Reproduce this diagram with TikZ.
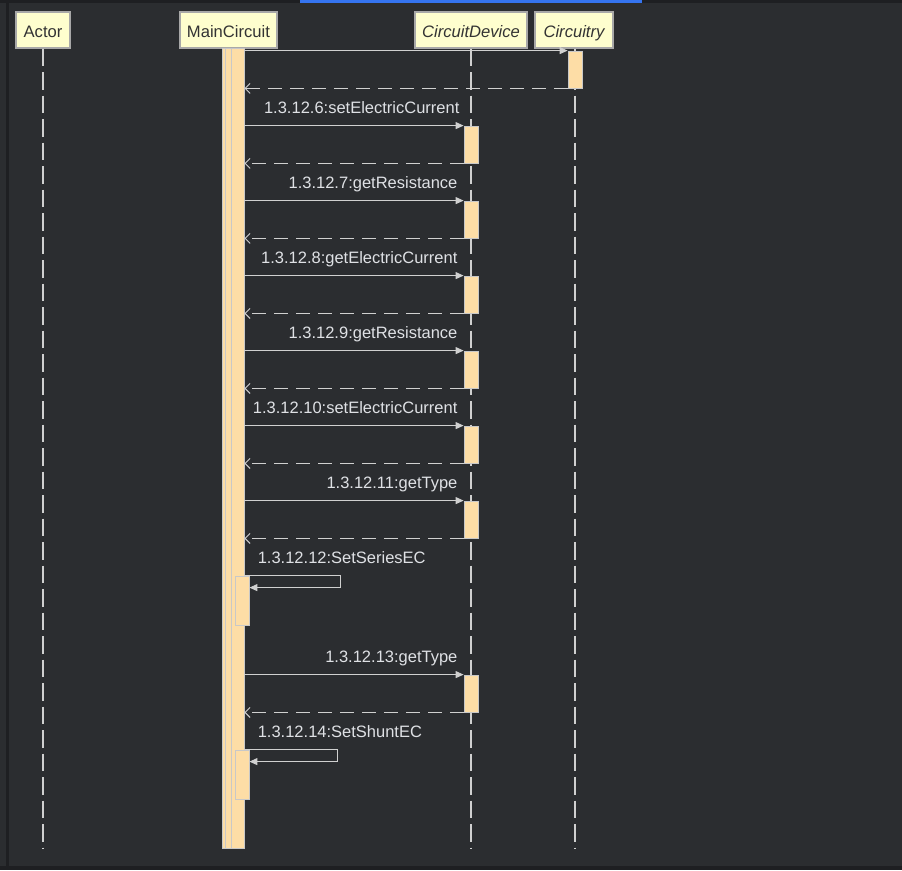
\documentclass[tikz,border=0pt]{standalone}
\usepackage{fontspec}
\setmainfont{Liberation Sans}
\usepackage{tikz}
\usetikzlibrary{arrows.meta,positioning,calc}
\usepackage{xcolor}
\definecolor{bgdark}{HTML}{2B2D30}
\definecolor{edgedark}{HTML}{1E1F22}
\definecolor{tabblue}{HTML}{3574F0}
\definecolor{headfill}{HTML}{FEFECE}
\definecolor{headline}{HTML}{A8A8A8}
\definecolor{headtext}{HTML}{333333}
\definecolor{actfill}{HTML}{FDDDA6}
\definecolor{actline}{HTML}{C8C8C8}
\definecolor{linecol}{HTML}{D0D0D0}
\definecolor{labeltext}{HTML}{DFE1E5}

\begin{document}
\begin{tikzpicture}[x=1pt, y=-1pt,
  head/.style={rectangle, draw=headline, fill=headfill, line width=1.2pt,
    minimum height=36pt, inner sep=0pt, text height=14pt, text depth=0pt,
    text=headtext, font=\fontsize{16.6}{18}\selectfont},
  act/.style={rectangle, draw=actline, fill=actfill, line width=0.8pt,
    minimum width=14pt, inner sep=0pt},
  msg/.style={-{Triangle[length=8pt,width=7pt]}, line width=1pt, linecol},
  ret/.style={-{Straight Barb[length=5pt,width=10pt]}, line width=1pt, linecol,
    dash pattern=on 14pt off 8pt},
  lifeline/.style={line width=1.2pt, linecol, dash pattern=on 17.5pt off 6pt},
  lbl/.style={inner sep=0pt, text=labeltext, font=\fontsize{16.5}{18}\selectfont},
]
\useasboundingbox (0,0) rectangle (902,870);
\fill[bgdark] (0,0) rectangle (902,870);
\fill[edgedark] (0,0) rectangle (902,3);
\fill[tabblue] (300,0) rectangle (642,3);
\fill[edgedark] (6,0) rectangle (9,870);
\fill[edgedark] (0,866) rectangle (902,870);

\node[head, minimum width=54pt] (actor) at (43,30) {Actor};
\node[head, minimum width=97pt] (main) at (228.5,30) {MainCircuit};
\node[head, minimum width=112pt] (device) at (471,30) {\itshape CircuitDevice};
\node[head, minimum width=78pt] (circuitry) at (574,30) {\itshape Circuitry};
\coordinate (bottom) at (0,848);

\draw[lifeline] (actor.south) -- (actor.south |- bottom);
\draw[lifeline] (device.south) -- (device.south |- bottom);
\draw[lifeline] (circuitry.south -| 575,0) -- (575,848);

\node[act, minimum width=22pt, minimum height=800pt] (mainbar) at (233,448) {};
\node[act, minimum width=19pt, minimum height=800pt] (mainbar2) at (234.5,448) {};
\node[act, minimum width=13pt, minimum height=800pt] (mainbar3) at (237.5,448) {};

\node[act, minimum height=37pt] (c1) at (575,69.5) {};
\node[act, minimum height=37pt] (a6) at (471,144.5) {};
\node[act, minimum height=37pt] (a7) at (471,219.5) {};
\node[act, minimum height=37pt] (a8) at (471,294.5) {};
\node[act, minimum height=37pt] (a9) at (471,369.5) {};
\node[act, minimum height=37pt] (a10) at (471,444.5) {};
\node[act, minimum height=37pt] (a11) at (471,519.5) {};
\node[act, minimum height=49pt] (s12) at (242,600.5) {};
\node[act, minimum height=37pt] (a13) at (471,693.5) {};
\node[act, minimum height=49pt] (s14) at (242,774.5) {};

\draw[msg] (mainbar.east |- c1.north) -- (c1.north west);
\draw[ret] (c1.south west) -- (mainbar.east |- c1.south);

\node[lbl, anchor=base east] (l6) at ($(a6.north west)+(-4,-12)$) {1.3.12.6:setElectricCurrent};
\draw[msg] (mainbar.east |- a6.north) -- (a6.north west);
\draw[ret] (a6.south west) -- (mainbar.east |- a6.south);

\node[lbl, anchor=base east] (l7) at ($(a7.north west)+(-6,-12)$) {1.3.12.7:getResistance};
\draw[msg] (mainbar.east |- a7.north) -- (a7.north west);
\draw[ret] (a7.south west) -- (mainbar.east |- a7.south);

\node[lbl, anchor=base east] (l8) at ($(a8.north west)+(-6,-12)$) {1.3.12.8:getElectricCurrent};
\draw[msg] (mainbar.east |- a8.north) -- (a8.north west);
\draw[ret] (a8.south west) -- (mainbar.east |- a8.south);

\node[lbl, anchor=base east] (l9) at ($(a9.north west)+(-6,-12)$) {1.3.12.9:getResistance};
\draw[msg] (mainbar.east |- a9.north) -- (a9.north west);
\draw[ret] (a9.south west) -- (mainbar.east |- a9.south);

\node[lbl, anchor=base east] (l10) at ($(a10.north west)+(-6,-12)$) {1.3.12.10:setElectricCurrent};
\draw[msg] (mainbar.east |- a10.north) -- (a10.north west);
\draw[ret] (a10.south west) -- (mainbar.east |- a10.south);

\node[lbl, anchor=base east] (l11) at ($(a11.north west)+(-6,-12)$) {1.3.12.11:getType};
\draw[msg] (mainbar.east |- a11.north) -- (a11.north west);
\draw[ret] (a11.south west) -- (mainbar.east |- a11.south);

\node[lbl, anchor=base west] (l12) at ($(s12.north west)+(23,-12)$) {1.3.12.12:SetSeriesEC};
\draw[msg] (mainbar.east |- s12.north) -- ++(96,0) -- ++(0,12) -- ($(s12.north east)+(0,12)$);

\node[lbl, anchor=base east] (l13) at ($(a13.north west)+(-6,-12)$) {1.3.12.13:getType};
\draw[msg] (mainbar.east |- a13.north) -- (a13.north west);
\draw[ret] (a13.south west) -- (mainbar.east |- a13.south);

\node[lbl, anchor=base west] (l14) at ($(s14.north west)+(23,-12)$) {1.3.12.14:SetShuntEC};
\draw[msg] (mainbar.east |- s14.north) -- ++(93,0) -- ++(0,12) -- ($(s14.north east)+(0,12)$);
\end{tikzpicture}
\end{document}
